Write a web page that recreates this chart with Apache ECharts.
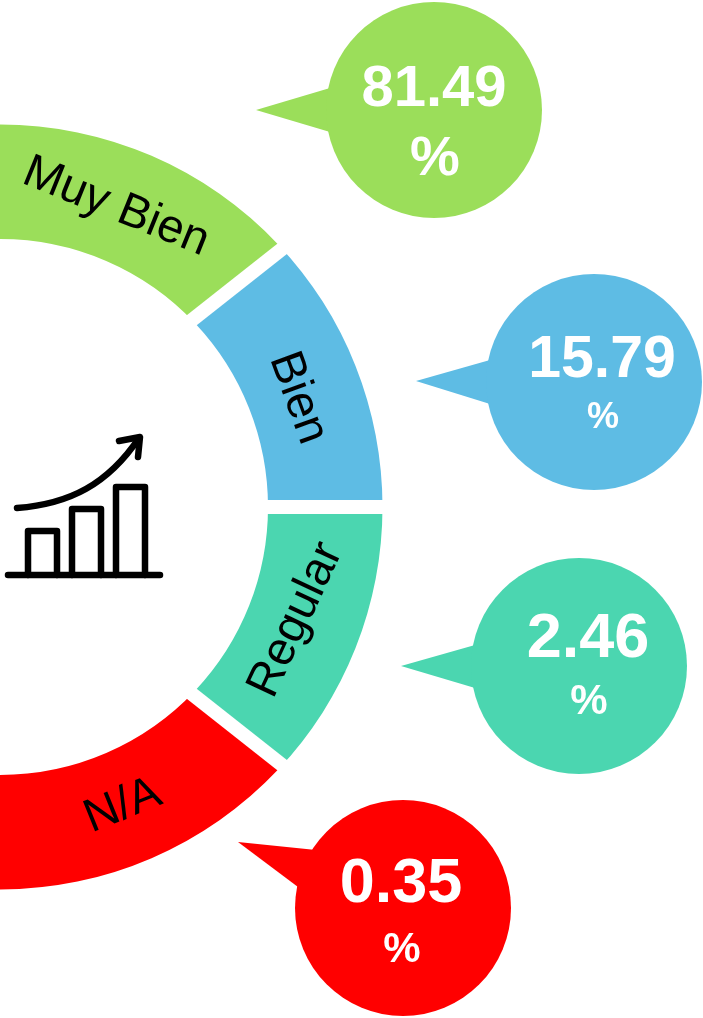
<!DOCTYPE html>
<html><head><meta charset="utf-8">
<style>html,body{margin:0;padding:0;background:#fff}#c{width:703px;height:1018px}</style>
<script src="https://cdn.jsdelivr.net/npm/echarts@6/dist/echarts.min.js"></script>
</head><body><div id="c"></div>
<script>
const categories = ['Muy Bien', 'Bien', 'Regular', 'N/A'];
const shares = ['81.49', '15.79', '2.46', '0.35'];
const percentSign = '%';
// The ring in the picture is not proportional to the shares: each band has about the same arc.
const arcSpans = [46.7, 43.3, 43.3, 46.7];

const colors = ['#9BDE5A', '#5EBCE4', '#4BD6B0', '#FF0000'];
const labelPlace = [[116, 207, -22], [298, 398, -70], [296, 620, 65], [123, 806, 22]];
const bubbleLayout = [
  {c: [434, 110], tail: [[256, 110], [330, 88], [330, 132]], tx: 434, x2: 435, y1: 90, y2: 160, f1: 58, f2: 56},
  {c: [594, 382], tail: [[416, 381], [490, 360], [490, 404]], tx: 602, x2: 603, y1: 361, y2: 418, f1: 59, f2: 36},
  {c: [579, 666], tail: [[401, 666], [475, 645], [475, 688]], tx: 588, x2: 589, y1: 640, y2: 702, f1: 63, f2: 42},
  {c: [403, 908], tail: [[238, 842], [316, 850], [302, 890]], tx: 401, x2: 402, y1: 885, y2: 950, f1: 63, f2: 42}
];
// White gaps between the bands: they are parallel-sided and not quite radial.
const gaps = [
  [[180, 329.5], [294, 239.5]],
  [[255, 507], [395, 507]],
  [[180, 684.5], [294, 774.5]]
];
const FONT = '"Liberation Sans", Arial, sans-serif';

const chart = echarts.init(document.getElementById('c'), null, {renderer: 'canvas'});
const iconLine = {stroke: '#000', lineWidth: 6.5, lineCap: 'round', lineJoin: 'round', fill: 'none'};
chart.setOption({
  backgroundColor: '#fff',
  animation: false,
  grid: {left: 0, right: 0, top: 0, bottom: 0},
  xAxis: {type: 'value', min: 0, max: 703, show: false},
  yAxis: {type: 'value', min: 0, max: 1018, inverse: true, show: false},
  series: [
    {
      type: 'pie',
      center: [0, 507],
      radius: [268, 382.5],
      startAngle: 90,
      endAngle: -90,
      silent: true,
      clockwise: true,
      avoidLabelOverlap: false,
      labelLine: {show: false},
      label: {show: true, position: 'inside', color: '#000', fontFamily: FONT, fontSize: 47, formatter: '{b}'},
      labelLayout: p => ({x: labelPlace[p.dataIndex][0], y: labelPlace[p.dataIndex][1], rotate: labelPlace[p.dataIndex][2], align: 'center', verticalAlign: 'middle', hideOverlap: false}),
      data: categories.map((name, i) => ({name, value: arcSpans[i], itemStyle: {color: colors[i]}}))
    },
    {
      type: 'custom',
      coordinateSystem: 'cartesian2d',
      silent: true,
      clip: false,
      data: shares.map((s, i) => [bubbleLayout[i].c[0], bubbleLayout[i].c[1], s]),
      renderItem: (params, api) => {
        const i = params.dataIndex, b = bubbleLayout[i];
        const c = api.coord([b.c[0], b.c[1]]);
        const text = (t, x, y, size) => {
          const p = api.coord([x, y]);
          return {
            type: 'text', x: p[0], y: p[1],
            style: {text: t, fill: '#fff', font: 'bold ' + size + 'px ' + FONT, align: 'center', verticalAlign: 'middle'}
          };
        };
        return {type: 'group', children: [
          {type: 'polygon', shape: {points: b.tail.map(p => api.coord(p))}, style: {fill: colors[i]}},
          {type: 'circle', shape: {cx: c[0], cy: c[1], r: 108}, style: {fill: colors[i]}},
          text(shares[i], b.tx, b.y1, b.f1),
          text(percentSign, b.x2, b.y2, b.f2)
        ]};
      }
    }
  ],
  graphic: {elements: gaps.map(g => ({
      type: 'line', z: 5, silent: true,
      shape: {x1: g[0][0], y1: g[0][1], x2: g[1][0], y2: g[1][1]},
      style: {stroke: '#fff', lineWidth: 14}
    })).concat([
      {type: 'line', silent: true, shape: {x1: 8, y1: 575, x2: 160, y2: 575}, style: iconLine},
      {type: 'polyline', silent: true, shape: {points: [[28, 575], [28, 531], [57, 531], [57, 575]]}, style: iconLine},
      {type: 'polyline', silent: true, shape: {points: [[72, 575], [72, 509], [101, 509], [101, 575]]}, style: iconLine},
      {type: 'polyline', silent: true, shape: {points: [[116, 575], [116, 487], [145, 487], [145, 575]]}, style: iconLine},
      {type: 'bezierCurve', silent: true, shape: {x1: 17, y1: 508, cpx1: 70, cpy1: 504, cpx2: 108, cpy2: 484, x2: 139, y2: 438}, style: iconLine},
      {type: 'polyline', silent: true, shape: {points: [[119, 441], [140, 437], [138, 457]]}, style: iconLine}
    ])}
});
</script></body></html>
